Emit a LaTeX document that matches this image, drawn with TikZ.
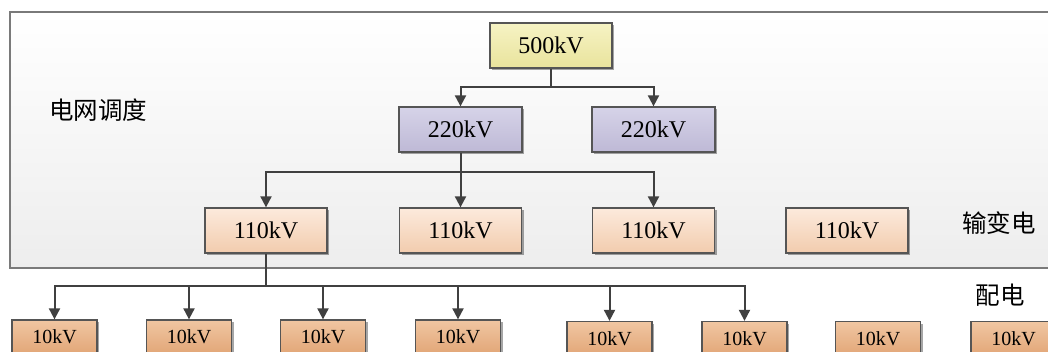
\documentclass[tikz,border=0pt]{standalone}
\usepackage{fontspec}
\setmainfont{Liberation Serif}
\newfontfamily\cjk{Noto Sans CJK SC}
\usetikzlibrary{shadows,arrows.meta}
\definecolor{bordergray}{HTML}{555555}
\definecolor{linegray}{HTML}{404040}
\definecolor{framegray}{HTML}{7A7A7A}
\definecolor{yelT}{HTML}{F6F3C4}
\definecolor{yelB}{HTML}{E9E39C}
\definecolor{purT}{HTML}{D6D3E8}
\definecolor{purB}{HTML}{BEB9D6}
\definecolor{peaT}{HTML}{FCEADC}
\definecolor{peaB}{HTML}{F2CCAE}
\definecolor{oraT}{HTML}{F0C6A2}
\definecolor{oraB}{HTML}{E2A677}
\tikzset{
  x=1pt, y=-1pt,
  kvbox/.style={draw=bordergray, line width=1.3pt, minimum width=122pt, minimum height=45pt,
    inner sep=0pt, font=\fontsize{24}{28}\selectfont,
    drop shadow={shadow xshift=2pt, shadow yshift=-2pt, fill=black, opacity=0.35}},
  b500/.style={kvbox, top color=yelT, bottom color=yelB},
  b220/.style={kvbox, minimum width=123pt, top color=purT, bottom color=purB},
  b110/.style={kvbox, top color=peaT, bottom color=peaB},
  b10/.style={kvbox, minimum width=85pt, minimum height=34pt, font=\fontsize{20}{24}\selectfont, top color=oraT, bottom color=oraB},
  arr/.style={draw=linegray, line width=2pt, -{Triangle[length=11pt,width=11pt]}},
  ln/.style={draw=linegray, line width=2pt},
  zh/.style={font=\cjk\fontsize{24.5}{28}\selectfont, inner sep=0pt}
}
\begin{document}
\begin{tikzpicture}
\useasboundingbox (0,0) rectangle (1048,351);
\fill[white] (0,0) rectangle (1048,351);
\shade[top color=white, bottom color=black!7, draw=framegray, line width=1.5pt] (10,12) rectangle (1070,268);

\node[b500] (p500) at (551,45.5) {500kV};
\node[b220] (a1) at (460.5,129.5) {220kV};
\node[b220] (a2) at (653.5,129.5) {220kV};
\node[b110] (c1) at (266,230.5) {110kV};
\node[b110] (c2) at (460.5,230.5) {110kV};
\node[b110] (c3) at (653.5,230.5) {110kV};
\node[b110] (c4) at (847,230.5) {110kV};
\node[b10] (d1) at (54.5,337) {10kV};
\node[b10] (d2) at (189,337) {10kV};
\node[b10] (d3) at (323,337) {10kV};
\node[b10] (d4) at (458,337) {10kV};
\node[b10] (d5) at (609.5,338.5) {10kV};
\node[b10] (d6) at (744.5,338.5) {10kV};
\node[b10] (d7) at (878,338.5) {10kV};
\node[b10] (d8) at (1013.5,338.5) {10kV};

\node[zh] (t1) at (98,110) {电网调度};
\node[zh] (t2) at (999,223) {输变电};
\node[zh] (t3) at (1000,295) {配电};

\coordinate (j1) at (551,87);
\coordinate (j2) at (460.5,172);
\coordinate (j3) at (266,286);

\draw[ln] (p500.south) -- (j1);
\draw[arr] (j1) -| (a1.north);
\draw[arr] (j1) -| (a2.north);

\draw[ln] (a1.south) -- (j2);
\draw[arr] (j2) -| (c1.north);
\draw[arr] (j2) -- (c2.north);
\draw[arr] (j2) -| (c3.north);

\draw[ln] (c1.south) -- (j3);
\draw[arr] (j3) -| (d1.north);
\draw[arr] (j3) -| (d2.north);
\draw[arr] (j3) -| (d3.north);
\draw[arr] (j3) -| (d4.north);
\draw[arr] (j3) -| (d5.north);
\draw[arr] (j3) -| (d6.north);
\end{tikzpicture}
\end{document}
